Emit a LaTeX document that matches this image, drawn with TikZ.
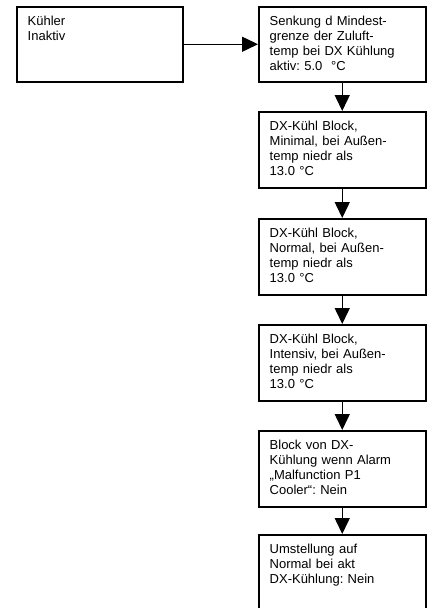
\documentclass[tikz,border=0pt]{standalone}
\usepackage{fontspec}
\setmainfont{Liberation Sans}
\usetikzlibrary{arrows.meta}
\frenchspacing
\begin{document}
\begin{tikzpicture}[x=1pt, y=-1pt, >={Triangle[length=16pt,width=15pt]},
  box/.style={draw, line width=1.5pt, anchor=north west, minimum width=167pt, minimum height=76pt, inner sep=0pt},
  txt/.style={anchor=base west, text width=160pt, align=left, inner sep=0pt,
    font=\fontsize{13}{15}\selectfont, xshift=11.5pt, yshift=-19pt},
  flow/.style={->, line width=1.5pt}]
  \useasboundingbox (0,0) rectangle (430,608);
  % boxes
  \node[box, minimum width=166pt, minimum height=75pt] (kuehler) at (16,6) {};
  \node[box, minimum height=75pt] (senkung) at (258,6) {};
  \node[box] (minimal) at (258,111) {};
  \node[box] (normal) at (258,218) {};
  \node[box] (intensiv) at (258,324) {};
  \node[box] (alarm) at (258,430) {};
  \node[box, minimum height=90pt] (umstellung) at (258,534) {};
  % texts
  \node[txt] (kuehlertxt) at (kuehler.north west) {Kühler\\Inaktiv};
  \node[txt] (senkungtxt) at (senkung.north west) {Senkung d Mindest-\\grenze der Zuluft-\\temp bei DX Kühlung\\aktiv: 5.0 \ °C};
  \node[txt] (minimaltxt) at (minimal.north west) {DX-Kühl Block,\\Minimal, bei Außen-\\temp niedr als\\13.0 °C};
  \node[txt] (normaltxt) at (normal.north west) {DX-Kühl Block,\\Normal, bei Außen-\\temp niedr als\\13.0 °C};
  \node[txt] (intensivtxt) at (intensiv.north west) {DX-Kühl Block,\\Intensiv, bei Außen-\\temp niedr als\\13.0 °C};
  \node[txt] (alarmtxt) at (alarm.north west) {Block von DX-\\Kühlung wenn Alarm\\„Malfunction P1\\Cooler“: Nein};
  \node[txt] (umstellungtxt) at (umstellung.north west) {Umstellung auf\\Normal bei akt\\DX-Kühlung: Nein};
  % arrows
  \draw[flow] (kuehler.east) -- (senkung.west);
  \draw[flow] (senkung.south) -- (minimal.north);
  \draw[flow] (minimal.south) -- (normal.north);
  \draw[flow] (normal.south) -- (intensiv.north);
  \draw[flow] (intensiv.south) -- (alarm.north);
  \draw[flow] (alarm.south) -- (umstellung.north);
\end{tikzpicture}
\end{document}
